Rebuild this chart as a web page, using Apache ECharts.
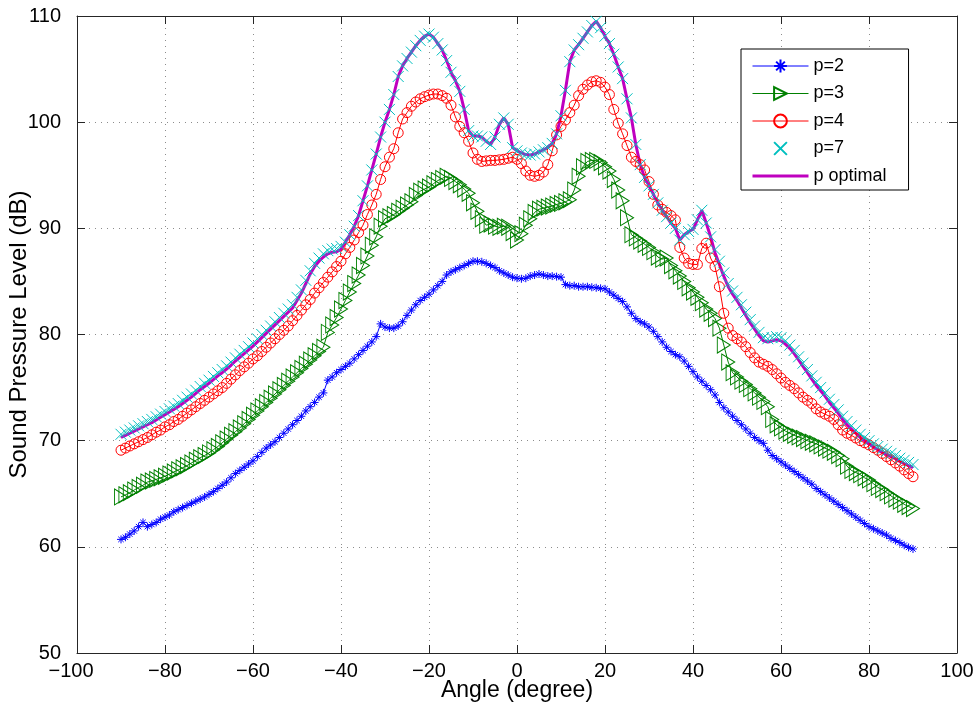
<!DOCTYPE html>
<html>
<head>
<meta charset="utf-8">
<script src="https://cdn.jsdelivr.net/npm/echarts@6/dist/echarts.min.js"></script>
<style>
html,body{margin:0;padding:0;background:#fff;}
#chart{width:978px;height:708px;}
</style>
</head>
<body>
<div id="chart"></div>
<script>
const angles = [-90,-89,-88,-87,-86,-85,-84,-83,-82,-81,-80,-79,-78,-77,-76,-75,-74,-73,-72,-71,-70,-69,-68,-67,-66,-65,-64,-63,-62,-61,-60,-59,-58,-57,-56,-55,-54,-53,-52,-51,-50,-49,-48,-47,-46,-45,-44,-43,-42,-41,-40,-39,-38,-37,-36,-35,-34,-33,-32,-31,-30,-29,-28,-27,-26,-25,-24,-23,-22,-21,-20,-19,-18,-17,-16,-15,-14,-13,-12,-11,-10,-9,-8,-7,-6,-5,-4,-3,-2,-1,0,1,2,3,4,5,6,7,8,9,10,11,12,13,14,15,16,17,18,19,20,21,22,23,24,25,26,27,28,29,30,31,32,33,34,35,36,37,38,39,40,41,42,43,44,45,46,47,48,49,50,51,52,53,54,55,56,57,58,59,60,61,62,63,64,65,66,67,68,69,70,71,72,73,74,75,76,77,78,79,80,81,82,83,84,85,86,87,88,89,90];

const p2 = [60.7,60.9,61.2,61.5,61.9,62.3,61.9,62.1,62.3,62.6,
62.8,63.0,63.3,63.5,63.7,63.9,64.1,64.3,64.5,64.7,
64.95,65.2,65.5,65.8,66.1,66.5,66.9,67.2,67.5,67.8,
68.1,68.5,68.9,69.3,69.6,69.9,70.3,70.7,71.1,71.5,
71.9,72.3,72.8,73.2,73.6,74.1,74.5,75.7,76.0,76.4,
76.7,77.0,77.3,77.7,78.1,78.5,78.9,79.3,79.8,81.0,
80.7,80.6,80.6,80.8,81.2,81.8,82.3,82.8,83.2,83.5,
83.8,84.2,84.6,85.0,85.6,85.9,86.1,86.3,86.5,86.7,
86.9,86.9,86.85,86.7,86.5,86.3,86.0,85.8,85.6,85.4,
85.3,85.25,85.3,85.5,85.6,85.7,85.6,85.5,85.5,85.45,
85.4,84.7,84.6,84.6,84.5,84.5,84.5,84.45,84.4,84.35,
84.3,84.0,83.7,83.4,83.1,82.6,82.0,81.5,81.2,81.0,
80.7,80.3,79.8,79.3,78.8,78.4,78.1,77.9,77.5,77.0,
76.5,76.0,75.6,75.2,74.8,74.3,73.6,73.1,72.7,72.3,
71.9,71.5,71.1,70.7,70.3,70.0,69.75,69.1,68.6,68.3,
68.0,67.7,67.4,67.1,66.8,66.5,66.2,65.9,65.5,65.2,
64.9,64.6,64.3,64.0,63.7,63.4,63.1,62.8,62.5,62.2,
61.9,61.7,61.5,61.3,61.1,60.8,60.6,60.4,60.15,59.95,
59.8];

const p3 = [64.7,64.9,65.1,65.35,65.6,65.8,66.1,66.2,66.35,66.5,
66.65,66.85,67.05,67.25,67.45,67.65,67.9,68.15,68.4,68.6,
68.85,69.15,69.45,69.8,70.15,70.5,70.85,71.2,71.6,72.0,
72.4,72.8,73.2,73.6,74.0,74.4,74.8,75.2,75.6,76.0,
76.4,76.8,77.2,77.6,78.0,78.4,78.8,80.2,80.9,81.6,
82.4,83.2,84.0,84.8,85.6,86.5,87.4,88.4,89.2,90.2,
90.9,91.1,91.3,91.6,91.9,92.2,92.5,93.1,93.5,93.7,
93.9,94.2,94.5,94.7,94.9,94.7,94.4,94.1,93.7,93.3,
92.4,91.6,90.9,90.3,90.4,90.2,90.1,90.2,90.1,89.6,
88.9,89.5,90.3,90.9,91.5,91.8,91.9,92.0,92.1,92.25,
92.35,92.5,92.7,93.6,94.9,95.8,96.3,96.4,96.4,96.2,
95.8,95.4,94.6,93.6,92.6,91.0,89.4,89.1,88.8,88.5,
88.2,87.8,87.3,87.1,87.2,86.5,86.0,85.5,85.0,84.4,
84.0,83.5,83.0,82.4,82.0,81.5,80.6,79.0,77.4,76.4,
76.0,75.6,75.3,74.9,74.5,74.1,73.7,73.2,72.0,71.5,
71.2,70.9,70.7,70.5,70.35,70.2,70.0,69.85,69.7,69.5,
69.3,69.1,68.9,68.6,68.3,67.6,67.2,67.0,66.8,66.5,
66.3,65.95,65.6,65.4,65.1,64.8,64.5,64.3,64.0,63.8,
63.6];

const p4 = [69.1,69.3,69.5,69.7,69.9,70.1,70.3,70.55,70.8,71.0,
71.3,71.5,71.8,72.0,72.3,72.6,72.9,73.2,73.5,73.8,
74.1,74.4,74.7,75.0,75.4,75.8,76.2,76.6,76.95,77.3,
77.7,78.0,78.4,78.8,79.2,79.6,80.0,80.4,80.8,81.3,
81.8,82.3,82.8,83.3,83.9,84.4,84.9,85.4,85.9,86.4,
86.9,87.6,88.2,88.9,89.6,90.3,91.3,92.2,93.2,94.6,
95.8,96.7,97.5,99.0,100.3,100.9,101.5,101.9,102.2,102.4,
102.55,102.65,102.65,102.5,102.25,101.6,100.5,99.6,99.0,98.2,
97.1,96.5,96.3,96.35,96.4,96.4,96.45,96.5,96.6,96.7,
96.5,96.1,95.4,95.0,94.9,95.0,95.3,96.0,97.3,98.8,
99.6,100.2,100.9,101.6,102.5,103.1,103.5,103.8,103.9,103.75,
103.3,102.6,101.2,99.9,98.9,97.8,96.7,96.3,96.0,95.5,
94.4,93.2,92.2,91.8,91.5,91.2,90.8,88.2,87.2,86.7,
86.6,86.6,88.1,88.6,87.2,86.4,84.5,82.0,80.6,79.9,
79.6,79.3,78.85,78.3,77.8,77.4,77.2,77.0,76.7,76.3,
75.9,75.5,75.2,74.9,74.5,74.1,73.8,73.5,73.0,72.7,
72.5,72.3,72.0,71.5,71.0,70.7,70.5,70.25,70.0,69.8,
69.6,69.35,69.1,68.8,68.5,68.2,67.9,67.6,67.25,66.9,
66.6];

const p7 = [70.6,70.8,71.0,71.2,71.4,71.6,71.8,72.0,72.25,72.5,
72.75,73.0,73.25,73.5,73.8,74.1,74.4,74.75,75.1,75.4,
75.7,76.05,76.4,76.7,77.05,77.4,77.8,78.15,78.5,78.85,
79.2,79.6,80.0,80.4,80.8,81.2,81.6,82.0,82.4,82.8,
83.5,84.2,85.1,86.0,86.7,87.2,87.6,87.9,88.05,88.1,
88.3,88.7,89.4,90.2,91.2,92.6,94.0,95.5,97.0,98.6,
100.0,101.2,102.6,104.3,105.3,106.0,106.6,107.2,107.7,108.1,
108.3,108.0,107.4,106.8,105.8,104.7,103.9,102.9,101.2,99.2,
98.7,98.7,98.6,98.2,97.9,98.6,99.8,100.4,99.8,97.6,
97.3,97.1,96.95,96.9,97.0,97.2,97.4,97.6,98.0,98.9,
100.6,103.0,105.7,106.8,107.3,107.9,108.5,109.1,109.5,108.9,
108.1,107.4,106.4,105.2,104.1,102.2,100.4,97.9,96.0,94.8,
94.0,93.2,92.4,91.7,91.1,90.5,90.0,88.9,89.4,89.7,
89.9,90.8,91.7,90.5,89.2,88.0,86.9,85.8,84.8,84.1,
83.5,82.8,82.1,81.4,80.8,80.2,79.7,79.6,79.7,79.8,
79.7,79.4,79.0,78.5,77.9,77.3,76.7,76.1,75.5,75.0,
74.5,73.9,73.4,72.9,72.3,71.8,71.4,71.0,70.6,70.3,
70.0,69.7,69.45,69.2,69.0,68.8,68.6,68.35,68.15,67.95,
67.75];

const pOpt = [70.3,70.5,70.7,70.9,71.1,71.3,71.5,71.7,71.95,72.2,
72.45,72.7,72.95,73.2,73.5,73.8,74.1,74.45,74.8,75.1,
75.4,75.75,76.1,76.4,76.75,77.1,77.5,77.85,78.2,78.55,
78.9,79.3,79.7,80.1,80.5,80.9,81.3,81.7,82.1,82.5,
83.2,83.9,84.8,85.7,86.4,86.9,87.3,87.6,87.75,87.8,
88.0,88.7,89.4,90.2,91.2,92.6,94.0,95.5,97.0,98.6,
100.0,101.2,102.6,104.3,105.3,106.0,106.6,107.2,107.7,108.1,
108.3,108.0,107.4,106.8,105.8,104.7,103.9,102.9,101.2,99.2,
98.7,98.7,98.6,98.2,97.9,98.6,99.8,100.4,99.8,97.6,
97.3,97.1,96.95,96.9,97.0,97.2,97.4,97.6,98.0,98.9,
100.6,103.0,105.7,106.8,107.3,107.9,108.5,109.1,109.5,108.9,
108.1,107.4,106.4,105.2,104.1,102.2,100.4,97.9,96.0,94.8,
94.0,93.2,92.4,91.7,91.1,90.5,90.0,88.9,89.4,89.7,
89.9,90.8,91.7,90.5,89.2,87.7,86.6,85.5,84.5,83.8,
83.2,82.5,81.8,81.1,80.5,79.9,79.4,79.3,79.4,79.5,
79.4,79.1,78.7,78.2,77.6,77.0,76.4,75.8,75.2,74.7,
74.2,73.6,73.1,72.6,72.0,71.5,71.1,70.7,70.3,70.0,
69.7,69.4,69.15,68.9,68.7,68.5,68.3,68.05,67.85,67.65,
67.45];

const seriesNames = ['p=2', 'p=3', 'p=4', 'p=7', 'p optimal'];
const xTicks = [-100, -80, -60, -40, -20, 0, 20, 40, 60, 80, 100];
const yTicks = [50, 60, 70, 80, 90, 100, 110];

function pairs(vals) { return angles.map((a, i) => [a, vals[i]]); }

const FONT = '"Liberation Sans", Arial, Helvetica, sans-serif';
const AX = '#262626';

const chart = echarts.init(document.getElementById('chart'), null, {renderer: 'canvas'});

const fmtX = v => {
  const s = v < 0 ? '\u2212' + (-v) : String(v);
  return v === xTicks[0] ? '{first|' + s + '}' : s;
};

const baseAxis = {
  axisLine: { show: true, onZero: false, lineStyle: { color: AX, width: 1 } },
  axisTick: { show: true, inside: true, length: 8, lineStyle: { color: AX, width: 1 } },
};

const option = {
  animation: false,
  backgroundColor: '#ffffff',
  textStyle: { fontFamily: FONT },
  grid: { left: 77, right: 21, top: 16, bottom: 55, containLabel: false, outerBoundsMode: 'none' },
  legend: {
    left: 741, top: 49,
    orient: 'vertical',
    data: [
      { name: seriesNames[0], lineStyle: { width: 1 } },
      { name: seriesNames[1], lineStyle: { width: 1 } },
      { name: seriesNames[2], lineStyle: { width: 1 } },
      { name: seriesNames[3] },
      { name: seriesNames[4], lineStyle: { width: 3 }, itemStyle: { color: 'rgba(0,0,0,0)', borderWidth: 0, opacity: 0 } }
    ],
    backgroundColor: '#ffffff',
    borderColor: '#000000',
    borderWidth: 1,
    padding: [8, 22, 5, 10],
    itemWidth: 56,
    itemHeight: 16,
    itemGap: 9.5,
    textStyle: { fontFamily: FONT, fontSize: 18, color: '#000' },
    selectedMode: false
  },
  xAxis: [
    Object.assign({}, baseAxis, {
      type: 'value', min: xTicks[0], max: xTicks[xTicks.length - 1], interval: 20,
      position: 'bottom',
      axisLabel: {
        formatter: fmtX, fontSize: 20, color: '#000', margin: 8, fontFamily: FONT,
        rich: { first: { fontSize: 20, color: '#000', fontFamily: FONT, padding: [0, 12, 0, 0] } }
      },
      splitLine: { show: true, lineStyle: { color: '#8c8c8c', width: 1, type: [1, 5] } },
      name: 'Angle (degree)', nameLocation: 'middle', nameGap: 26, nameMoveOverlap: false,
      nameTextStyle: { fontSize: 23, color: '#000', fontFamily: FONT, verticalAlign: 'top' }
    }),
    Object.assign({}, baseAxis, {
      type: 'value', min: xTicks[0], max: xTicks[xTicks.length - 1], interval: 20,
      position: 'top', axisLabel: { show: false }, splitLine: { show: false }
    })
  ],
  yAxis: [
    Object.assign({}, baseAxis, {
      type: 'value', min: yTicks[0], max: yTicks[yTicks.length - 1], interval: 10,
      position: 'left',
      axisLabel: { fontSize: 20, color: '#000', margin: 16, fontFamily: FONT },
      splitLine: { show: true, lineStyle: { color: '#8c8c8c', width: 1, type: [1, 5] } },
      name: 'Sound Pressure Level (dB)', nameLocation: 'middle', nameGap: 46, nameMoveOverlap: false,
      nameTextStyle: { fontSize: 24, color: '#000', fontFamily: FONT }
    }),
    Object.assign({}, baseAxis, {
      type: 'value', min: yTicks[0], max: yTicks[yTicks.length - 1], interval: 10,
      position: 'right', axisLabel: { show: false }, splitLine: { show: false }
    })
  ],
  series: [
    {
      name: seriesNames[0], type: 'line', data: pairs(p2),
      symbol: 'path://M5,0L5,10M0,5L10,5M1.6,1.6L8.4,8.4M8.4,1.6L1.6,8.4',
      symbolSize: 8, showAllSymbol: true,
      lineStyle: { color: '#0000ff', width: 1 },
      itemStyle: { color: 'rgba(0,0,0,0)', borderColor: '#0000ff', borderWidth: 1 },
      emphasis: { disabled: true }
    },
    {
      name: seriesNames[1], type: 'line', data: pairs(p3),
      symbol: 'path://M0,0L10,6L0,12Z',
      symbolSize: [13, 16], showAllSymbol: true,
      lineStyle: { color: '#008000', width: 1 },
      itemStyle: { color: 'rgba(0,0,0,0)', borderColor: '#008000', borderWidth: 1 },
      emphasis: { disabled: true }
    },
    {
      name: seriesNames[2], type: 'line', data: pairs(p4),
      symbol: 'circle', symbolSize: 10, showAllSymbol: true,
      lineStyle: { color: '#ff0000', width: 1 },
      itemStyle: { color: 'rgba(0,0,0,0)', borderColor: '#ff0000', borderWidth: 1 },
      emphasis: { disabled: true }
    },
    {
      name: seriesNames[3], type: 'line', data: pairs(p7),
      symbol: 'path://M0,0L10,10M10,0L0,10',
      symbolSize: 11, showAllSymbol: true,
      lineStyle: { color: '#00bfbf', width: 0, opacity: 0 },
      itemStyle: { color: 'rgba(0,0,0,0)', borderColor: '#00bfbf', borderWidth: 1 },
      emphasis: { disabled: true }
    },
    {
      name: seriesNames[4], type: 'line', data: pairs(pOpt),
      symbol: 'none', showSymbol: false,
      lineStyle: { color: '#bf00bf', width: 3 },
      itemStyle: { color: '#bf00bf' },
      emphasis: { disabled: true }
    }
  ]
};

chart.setOption(option);
</script>
</body>
</html>
